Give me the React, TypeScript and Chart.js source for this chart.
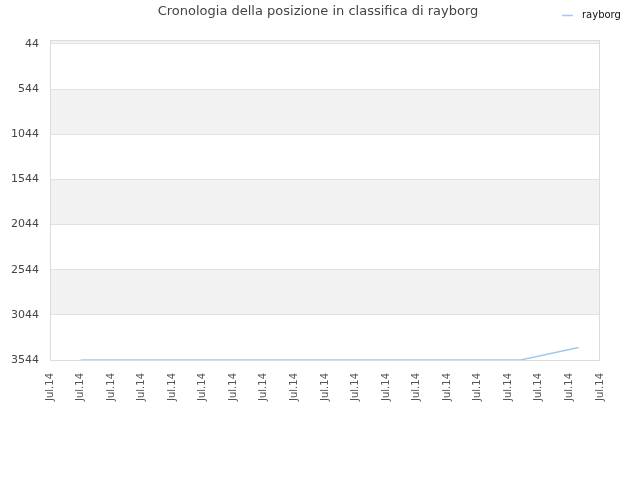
import React, { useEffect, useRef } from 'react';
import { Chart, registerables } from 'chart.js';

Chart.register(...registerables);

const chartTitle = 'Cronologia della posizione in classifica di rayborg';
const seriesName = 'rayborg';
const dateLabels = [
  'Jul.14', 'Jul.14', 'Jul.14', 'Jul.14', 'Jul.14', 'Jul.14', 'Jul.14',
  'Jul.14', 'Jul.14', 'Jul.14', 'Jul.14', 'Jul.14', 'Jul.14', 'Jul.14',
  'Jul.14', 'Jul.14', 'Jul.14', 'Jul.14', 'Jul.14',
];
const pointPos = [1, 15.4, 17.3];
const rankValues = [3544, 3544, 3405];
const rankTicks = [44, 544, 1044, 1544, 2044, 2544, 3044, 3544];

const lineColor = '#9ecaf4';
const fontFamily = '"DejaVu Sans", sans-serif';

// alternating bands, border, title and custom legend
const decorPlugin = {
  id: 'decor',
  beforeDraw(chart: any) {
    const { ctx, chartArea, scales } = chart;
    const y = scales.y;
    const edges = [0, ...rankTicks];
    ctx.save();
    for (let i = 0; i < edges.length - 1; i++) {
      if (i % 2 === 0) {
        const a = y.getPixelForValue(edges[i]);
        const b = y.getPixelForValue(edges[i + 1]);
        ctx.fillStyle = '#f2f2f2';
        ctx.fillRect(chartArea.left, a, chartArea.right - chartArea.left, b - a);
      }
    }
    ctx.restore();
  },
  afterDraw(chart: any) {
    const { ctx, chartArea } = chart;
    ctx.save();
    ctx.strokeStyle = '#dcdcdc';
    ctx.lineWidth = 1;
    ctx.strokeRect(chartArea.left + 0.5, chartArea.top + 0.5,
      chartArea.right - chartArea.left - 1, chartArea.bottom - chartArea.top);
    ctx.fillStyle = '#444';
    ctx.font = '13px ' + fontFamily;
    ctx.textAlign = 'center';
    ctx.textBaseline = 'middle';
    ctx.fillText(chartTitle, 318, 12);
    ctx.strokeStyle = lineColor;
    ctx.lineWidth = 1.5;
    ctx.beginPath();
    ctx.moveTo(562, 15.5);
    ctx.lineTo(573, 15.5);
    ctx.stroke();
    ctx.fillStyle = '#111';
    ctx.font = '10px ' + fontFamily;
    ctx.textAlign = 'left';
    ctx.fillText(seriesName, 582, 15);
    ctx.restore();
  },
};

const App = () => {
  const canvasRef = useRef<HTMLCanvasElement>(null);

  useEffect(() => {
    let chart: Chart | null = null;
    if (canvasRef.current) {
      const ctx = canvasRef.current.getContext('2d');
      if (ctx) {
        chart = new Chart(ctx, {
          type: 'line',
          data: {
            datasets: [{
              label: seriesName,
              data: pointPos.map((x, i) => ({ x, y: rankValues[i] })),
              borderColor: lineColor,
              borderWidth: 1.5,
              pointRadius: 0,
              fill: false,
              tension: 0,
            }],
          },
          options: {
            animation: false,
            responsive: false,
            layout: { padding: { top: 40, right: 40, left: 0, bottom: 0 } },
            plugins: {
              legend: { display: false },
              title: { display: false },
              tooltip: { enabled: false },
            },
            scales: {
              x: {
                type: 'linear',
                min: 0,
                max: dateLabels.length - 1,
                grid: { display: false, drawTicks: false },
                border: { display: false },
                afterFit: (s: any) => { s.height = 120; },
                afterBuildTicks: (s: any) => {
                  s.ticks = dateLabels.map((_, i) => ({ value: i }));
                },
                ticks: {
                  minRotation: 90,
                  maxRotation: 90,
                  autoSkip: false,
                  padding: 13,
                  color: '#555',
                  font: { family: fontFamily, size: 10 },
                  callback: (_v: any, i: number) => dateLabels[i],
                },
              },
              y: {
                type: 'linear',
                reverse: true,
                min: 0,
                max: 3544,
                grid: { color: '#e2e2e2', drawTicks: false },
                border: { display: false },
                afterFit: (s: any) => { s.width = 50; },
                afterBuildTicks: (s: any) => {
                  s.ticks = rankTicks.map((v) => ({ value: v }));
                },
                ticks: {
                  padding: 11,
                  color: '#444',
                  font: { family: fontFamily, size: 11 },
                  callback: (v: any) => String(v),
                },
              },
            },
          },
          plugins: [decorPlugin],
        });
      }
    }
    return () => {
      if (chart) chart.destroy();
    };
  }, []);

  return (
    <div style={{ position: 'fixed', top: 0, left: 0, width: 640, height: 480, background: '#fff' }}>
      <canvas ref={canvasRef} width={640} height={480}></canvas>
    </div>
  );
};

export default App;
